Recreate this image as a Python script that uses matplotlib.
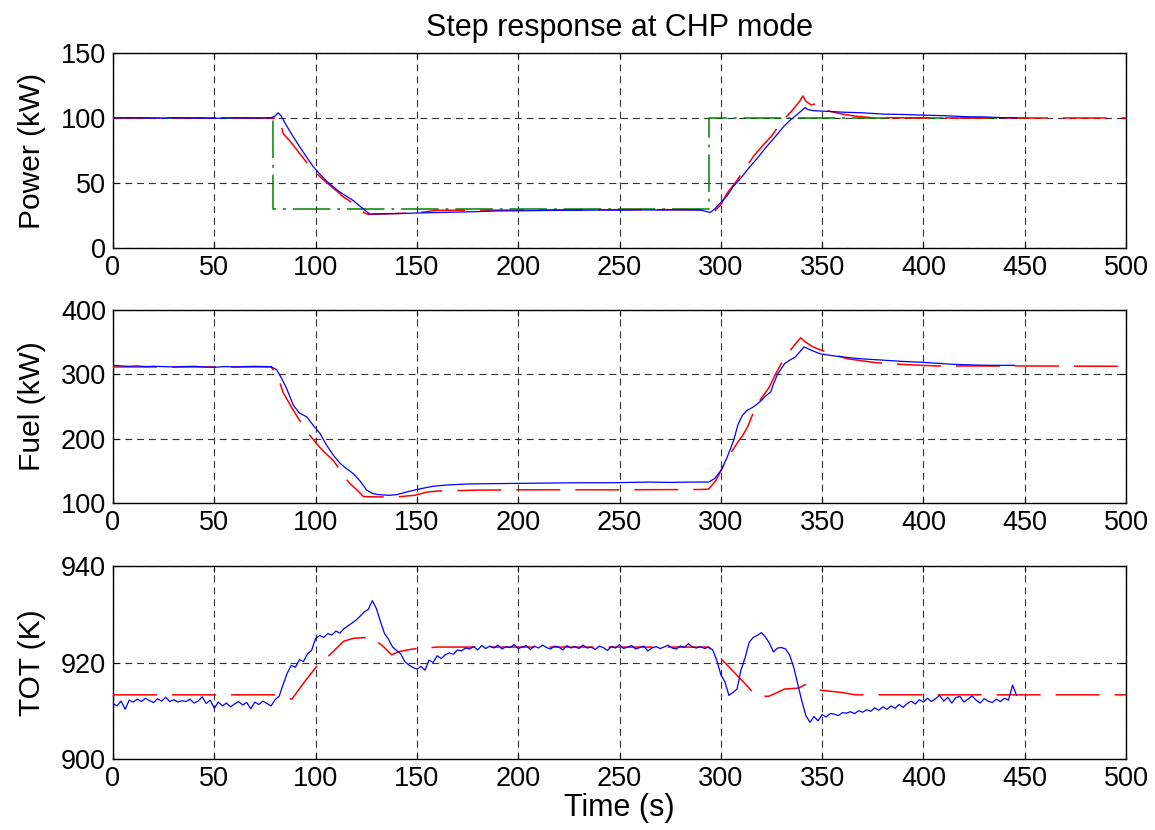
import matplotlib
matplotlib.use("Agg")
import matplotlib.pyplot as plt
import numpy as np

plt.rcParams['font.family'] = ['Liberation Sans', 'DejaVu Sans']
plt.rcParams['font.size'] = 19
plt.rcParams['lines.scale_dashes'] = False

# ---------------- data ----------------
title = "Step response at CHP mode"
xlabel = "Time (s)"
ylabels = ["Power (kW)", "Fuel (kW)", "TOT (K)"]
xticks = [0, 50, 100, 150, 200, 250, 300, 350, 400, 450, 500]

# Power panel
power_set_t = [0, 79, 79, 294, 294, 450]
power_set_v = [100, 100, 30, 30, 100, 100]

power_meas_t = [0, 10, 20, 30, 40, 50, 60, 70, 78, 80, 81.5, 83, 85.7, 89, 92.3, 95.5,
                98.9, 102, 105, 108.8, 112, 115, 118.6, 122, 125.2, 126.8, 130, 140, 150,
                160, 170, 180, 190, 200, 210, 220, 230, 240, 250, 260, 270, 280, 290,
                294.7, 297, 299.6, 303, 306, 310, 314.4, 318, 322.6, 326, 330.8, 334,
                337.4, 341.6, 343, 345.5, 350, 355.4, 360, 370, 380, 390, 398, 410, 421,
                430, 438, 446]
power_meas_v = [100, 100.2, 99.9, 100.1, 100, 99.8, 100.1, 100, 100.2, 101.5, 104, 101.5,
                94, 85.5, 77.5, 70, 62.5, 57, 52, 47, 43, 40, 36.5, 32, 28, 26, 26.3, 26.5,
                26.9, 27.3, 27.6, 28, 28.5, 28.6, 28.8, 29, 29, 29.2, 29.1, 29.3, 29.2,
                29.3, 29.2, 27.3, 30, 34.3, 40, 47, 54, 62.6, 69, 78, 84, 93, 98, 102.3,
                108, 106.5, 105.7, 105.3, 104.9, 104.5, 104, 103, 102.7, 102.3, 101.8,
                101, 100.8, 100.3, 100.2]

power_model_t = [0, 80, 82, 84, 88, 92, 97, 102, 108, 114, 120.3, 124, 126, 140, 150, 160,
                 200, 250, 280, 290, 294, 296, 300, 303, 308, 312, 316, 320.8, 325, 330,
                 335, 339, 340.5, 342, 344.6, 347, 349.5, 354.5, 360, 366, 374, 400, 450,
                 500]
power_model_v = [100, 100, 100.5, 88, 81, 73, 63, 55, 47, 39, 32.6, 27, 25.8, 26.5, 27, 29,
                 29.2, 29.5, 29.5, 29.4, 28.5, 27, 33, 42, 52, 61, 70.3, 79, 86, 97, 105.4,
                 113, 117, 113, 110, 111, 106.6, 104.9, 103, 101.5, 100.3, 100, 100, 100]

# Fuel panel
fuel_meas_t = [0, 4, 8, 12, 16, 20, 25, 30, 35, 40, 45, 50, 55, 60, 65, 70, 75, 78, 80.8,
               83, 85.7, 89, 92, 95.6, 99, 102.2, 105, 108.8, 112, 115, 118.6, 122, 125.2,
               128, 130, 133, 136.6, 140, 144.8, 150, 158, 165, 174.4, 185, 200, 215, 230,
               245, 255, 265, 275, 285, 294, 297, 300.2, 303, 306.3, 308.5, 310.6, 313,
               315.9, 318, 320.2, 322, 324.6, 326, 328, 331.5, 334, 336.8, 339, 341, 343,
               345, 349, 355, 362.9, 370, 380.3, 390, 397.7, 405, 415, 425, 432.6, 440, 445]
fuel_meas_v = [314, 313, 312.5, 313, 312, 312.5, 312, 311.5, 312, 312.5, 311.5, 311, 312,
               311.5, 312, 312.5, 312, 312, 307, 295, 278, 252, 240, 234, 220, 208, 192,
               174, 162, 154, 145.6, 134, 120, 115, 113.5, 112.5, 112, 113, 117, 121, 126,
               128, 129.5, 130, 130.5, 131, 131.5, 131.5, 132, 132.5, 132, 132.5, 132.6,
               138, 151, 170, 197, 222, 236, 244, 249, 254, 260, 266, 272.5, 285, 300,
               316.6, 322, 327, 335, 342.5, 340, 337, 332, 329, 326, 324, 322, 320, 319,
               317.5, 315.5, 314.5, 314, 314, 314]

fuel_model_t = [0, 78, 80.8, 82, 84, 89, 94.8, 96, 100.5, 104, 108.8, 114.5, 117, 120.3,
                123.6, 130, 140, 149, 155, 160, 166, 180, 200, 250, 290, 294, 297.6, 300,
                303.7, 308.9, 311, 313.2, 316, 319.3, 323.7, 327, 330.7, 335, 339.4, 341,
                345.5, 350, 354.2, 362.9, 376.8, 389, 406.4, 450, 500]
fuel_model_v = [311.5, 311.5, 300, 290, 271.5, 244, 215, 210, 192, 180, 166, 140, 130,
                120.7, 110, 109.5, 109.4, 112, 117, 118.5, 119, 120, 120.5, 120.5, 121,
                121.5, 135, 150, 171.5, 197, 206, 218, 240, 259.6, 279, 300, 321.8, 340,
                357, 352, 342.5, 337, 332, 324, 318, 315.5, 313, 313, 312.5]

# TOT panel (measured sampled every 2 s from 0 to 446 s)
tot_meas_t = list(range(0, 447, 2))
tot_meas_v = [
    911.5, 911.0, 912.0, 910.3, 912.2, 911.8, 912.4, 911.9, 912.6, 912.1,
    911.7, 912.5, 912.0, 912.8, 911.9, 912.3, 911.8, 912.1, 911.9, 912.4,
    911.6, 912.0, 912.9, 911.5, 912.2, 910.5, 911.8, 911.0, 911.6, 910.8,
    911.4, 911.9, 911.2, 911.7, 910.4, 911.8, 911.3, 912.0, 911.5, 911.0,
    912.3,
    913.0, 915.5, 917.8, 919.4, 919.0, 920.6, 920.2, 921.8, 922.5, 925.0,
    925.6, 925.2, 926.0, 925.7, 926.5, 926.1, 927.0, 927.6, 928.2, 928.8,
    929.6, 930.5, 931.0, 932.8, 931.2, 928.5, 926.0, 924.8, 923.2, 922.5,
    921.8, 920.2, 919.5, 919.0, 918.6,
    919.2, 918.4, 920.5, 920.0, 921.4, 920.8, 921.6, 922.0, 921.7, 922.6,
    922.4, 923.0, 922.8, 923.3, 922.6, 923.5, 922.9, 923.4, 923.0, 923.6,
    922.8, 923.3, 923.1, 923.7, 922.9, 923.2, 923.5, 922.7, 923.4, 923.0,
    923.6, 923.1, 922.8, 923.4, 923.2, 922.6, 923.5, 923.0, 923.3, 922.9,
    923.6, 923.0, 923.2, 922.7, 923.4, 923.1, 922.5, 923.3, 923.0, 923.7,
    922.9, 923.2, 923.5, 922.8, 923.1, 923.4, 922.4, 923.0, 923.3, 922.9,
    923.2, 923.6, 923.0, 922.8, 923.4, 923.1, 923.9, 923.2, 923.0, 923.3,
    922.9, 923.2,
    922.6, 920.5, 917.5, 916.0, 913.2, 913.8, 914.5, 918.5, 921.0, 924.2,
    925.2, 925.6, 926.2, 925.3, 924.0, 922.2, 923.0, 923.1, 922.8, 921.5,
    919.0, 915.5, 912.0, 909.0, 907.6, 908.8, 907.9, 909.2, 908.7, 909.4,
    909.3, 909.0, 909.6, 909.5, 909.8, 909.4, 910.0, 909.7, 910.2, 909.9,
    910.6, 910.1, 910.8, 910.3, 911.0, 910.5, 911.3, 910.7, 911.5, 912.0,
    911.4, 912.3, 911.8, 912.6, 911.9, 912.5, 913.2, 912.0, 912.8, 911.6,
    912.7, 913.0, 911.8, 912.4, 913.1, 912.2, 911.6, 912.5, 912.0, 911.7,
    912.4, 911.9, 912.6, 912.2, 915.3, 913.2]

tot_model_t = [0, 80, 82, 86, 88.3, 94, 101.4, 105, 108, 113.8, 118.6, 125.2, 126.5, 128,
               133, 137.5, 141.6, 148, 152.3, 160, 200, 250, 294, 296.7, 301, 307, 312.4,
               317.6, 323.7, 328, 331.5, 338.5, 341.6, 345.5, 350.7, 359.4, 366.4, 400,
               450, 500]
tot_model_v = [913.3, 913.3, 913, 912.6, 912.4, 915.7, 919.7, 920.8, 922, 924.4, 925,
               925.2, 925.5, 925, 923.5, 921.6, 922.3, 922.8, 922.9, 923.2, 923.2, 923.2,
               923.2, 921.6, 920.4, 917.8, 915.4, 913, 913, 913.8, 914.5, 914.7, 915.4,
               914.5, 914.2, 913.8, 913.3, 913.3, 913.3, 913.3]

ylims = [(0, 150), (100, 400), (900, 940)]
yticks = [[0, 50, 100, 150], [100, 200, 300, 400], [900, 920, 940]]

# ---------------- plotting ----------------
fig = plt.figure(figsize=(11.55, 8.3), dpi=100)
left, width = 113 / 1155, 1013 / 1155
boxes = [(53, 248), (310, 503), (566, 759)]
axes = []
for (top, bot) in boxes:
    ax = fig.add_axes([left, 1 - bot / 830, width, (bot - top) / 830])
    axes.append(ax)

red_dash = (31.7, 10.8)
green_dashdot = (27, 5, 2, 5)

series = [
    (power_meas_t, power_meas_v, power_model_t, power_model_v),
    (fuel_meas_t, fuel_meas_v, fuel_model_t, fuel_model_v),
    (tot_meas_t, tot_meas_v, tot_model_t, tot_model_v),
]

for i, ax in enumerate(axes):
    mt, mv, rt, rv = series[i]
    if i == 0:
        ax.plot(power_set_t, power_set_v, color=(0, 0.5, 0), lw=1.1,
                linestyle=(0, green_dashdot), zorder=2)
    ax.plot(rt, rv, color=(1, 0, 0), lw=1.1, linestyle=(0, red_dash), zorder=3)
    ax.plot(mt, mv, color=(0, 0, 1), lw=0.9, zorder=4)
    ax.set_xlim(0, 500)
    ax.set_ylim(*ylims[i])
    ax.set_xticks(xticks)
    ax.set_yticks(yticks[i])
    ax.grid(True, color='0.2', lw=0.8, linestyle=(0, (5, 3.5)))
    ax.tick_params(direction='in', length=4, width=0.8, top=True, right=True,
                   labelsize=19.5, pad=5)
    for s in ax.spines.values():
        s.set_linewidth(1.0)
    ax.set_ylabel(ylabels[i], fontsize=21.5)
    ax.yaxis.set_label_coords(-0.066, 0.5)

axes[0].set_title(title, fontsize=22, pad=12)
axes[2].set_xlabel(xlabel, fontsize=22, labelpad=1)

fig.savefig("out.png", dpi=100)
